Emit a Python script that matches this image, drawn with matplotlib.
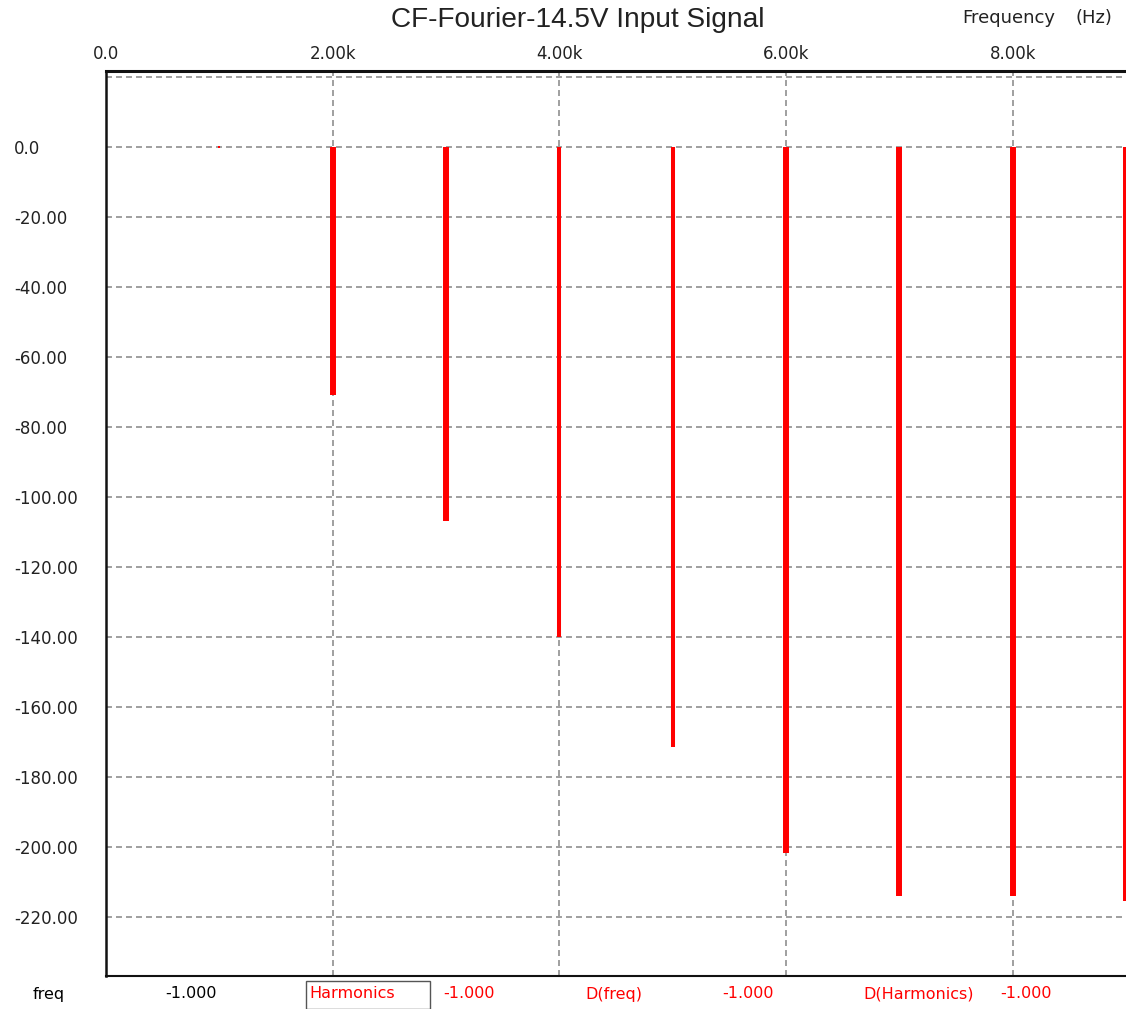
import numpy as np
import matplotlib.pyplot as plt
from matplotlib.patches import Rectangle

plt.rcParams['lines.scale_dashes'] = False

# harmonic spectrum of the input signal (dB relative to the fundamental)
freq = np.array([1000, 2000, 3000, 4000, 5000, 6000, 7000, 8000, 9000])
harmonics_db = np.array([0.0, -70.9, -106.9, -139.9, -171.5, -201.8, -213.9, -213.9, -215.4])

x_ticks = [0, 2000, 4000, 6000, 8000]
x_labels = ['0.0', '2.00k', '4.00k', '6.00k', '8.00k']
y_ticks = [20, 0, -20, -40, -60, -80, -100, -120, -140, -160, -180, -200, -220]
y_labels = ['', '0.0'] + ['%.2f' % v for v in y_ticks[2:]]

# cursor readout row under the plot
readout = [('freq', 33, 'black'), ('-1.000', 165, 'black'),
           ('Harmonics', 309, 'red'), ('-1.000', 443, 'red'),
           ('D(freq)', 585, 'red'), ('-1.000', 722, 'red'),
           ('D(Harmonics)', 863, 'red'), ('-1.000', 1000, 'red')]

W, H = 1126, 1009
fig = plt.figure(figsize=(W / 100, H / 100), dpi=100)
ax = fig.add_axes([106 / W, 1 - 976 / H, 1 - 106 / W, (976 - 71) / H])

ax.set_xlim(0, 9000)
ax.set_ylim(-236.9, 21.7)

# bar widths in points (some lines are drawn thinner)
bar_w = [1.5, 4.3, 4.3, 2.9, 2.9, 4.3, 4.3, 4.3, 4.3]
ax.vlines(freq, 0, harmonics_db, colors='#ff0000', linewidths=bar_w, zorder=3)
zero = harmonics_db == 0
ax.plot(freq[zero], harmonics_db[zero], 's', color='#ff0000', ms=1.8, mew=0, zorder=3)

ax.set_xticks(x_ticks)
ax.set_xticklabels(x_labels)
ax.set_yticks(y_ticks)
ax.set_yticklabels(y_labels)
ax.xaxis.tick_top()
ax.tick_params(axis='x', length=0, pad=6, labelsize=12, labelcolor='#222222')
ax.tick_params(axis='y', length=0, pad=66, labelsize=12, labelcolor='#222222')
for lbl in ax.get_yticklabels():
    lbl.set_horizontalalignment('left')

ax.grid(True, color='#858585', linewidth=1.1, linestyle=(0, (4.3, 2.9)))
ax.set_axisbelow(True)

ax.spines['right'].set_visible(False)
ax.spines['top'].set_linewidth(2.2)
ax.spines['left'].set_linewidth(1.8)
ax.spines['bottom'].set_linewidth(1.5)
for s in ax.spines.values():
    s.set_color('#111111')

fig.text(578 / W, 1 - 20 / H, 'CF-Fourier-14.5V Input Signal', ha='center', va='center',
         fontsize=20.2, family='Liberation Sans', color='#222222')
fig.text(962 / W, 1 - 18 / H, 'Frequency', ha='left', va='center',
         fontsize=13, color='#222222')
fig.text(1112 / W, 1 - 18 / H, '(Hz)', ha='right', va='center',
         fontsize=13, color='#222222')

for txt, px, col in readout:
    fig.text(px / W, 1 - 994 / H, txt, ha='left', va='center', fontsize=11.5,
             color=col)
fig.patches.append(Rectangle((306 / W, 0), 124 / W, (1009 - 981) / H,
                             transform=fig.transFigure, fill=False,
                             edgecolor='#555555', linewidth=1))

fig.savefig('out.png', dpi=100)
